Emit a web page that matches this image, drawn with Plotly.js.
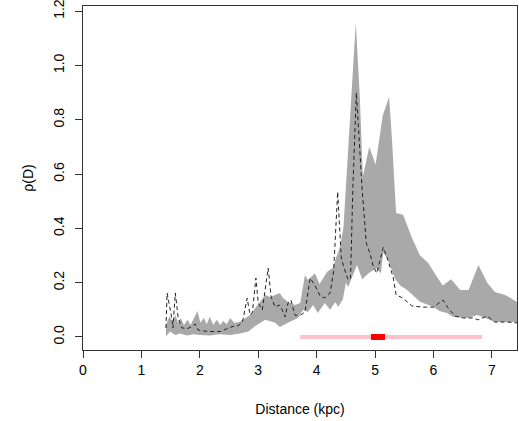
<!DOCTYPE html>
<html>
<head>
<meta charset="utf-8">
<script src="https://cdn.plot.ly/plotly-3.0.1.min.js"></script>
<style>html,body{margin:0;padding:0;background:#fff;}#chart{width:519px;height:421px;}</style>
</head>
<body>
<div id="chart"></div>
<script>
// Upper edge of grey band
const bandUpperX = [1.42,1.48,1.54,1.58,1.63,1.67,1.73,1.79,1.84,1.96,2.01,2.07,2.12,2.17,2.23,2.29,2.35,2.40,2.46,2.52,2.59,2.66,2.74,2.86,2.95,3.03,3.12,3.20,3.29,3.37,3.42,3.51,3.63,3.72,3.80,3.85,3.97,4.05,4.18,4.28,4.34,4.40,4.46,4.49,4.51,4.58,4.67,4.74,4.79,4.90,5.01,5.13,5.24,5.29,5.34,5.36,5.48,5.63,5.77,5.91,6.06,6.16,6.30,6.46,6.60,6.77,6.92,7.05,7.23,7.43];
const bandUpperY = [0.044,0.075,0.056,0.081,0.052,0.070,0.044,0.063,0.044,0.096,0.052,0.070,0.047,0.075,0.044,0.063,0.044,0.059,0.047,0.070,0.052,0.054,0.063,0.081,0.107,0.130,0.155,0.147,0.155,0.162,0.144,0.129,0.118,0.125,0.228,0.210,0.235,0.195,0.240,0.255,0.296,0.330,0.406,0.517,0.610,0.870,1.157,0.880,0.590,0.700,0.635,0.815,0.884,0.725,0.550,0.457,0.450,0.365,0.300,0.272,0.221,0.190,0.213,0.173,0.173,0.265,0.200,0.166,0.155,0.129];
// Lower edge of grey band
const bandLowerX = [1.42,1.49,1.58,1.66,1.78,1.89,2.00,2.17,2.35,2.52,2.69,2.83,2.95,3.12,3.29,3.37,3.51,3.68,3.77,3.85,3.94,4.02,4.14,4.23,4.32,4.37,4.45,4.50,4.54,4.69,4.78,4.91,5.02,5.10,5.14,5.22,5.34,5.43,5.55,5.77,6.00,6.11,6.23,6.34,6.60,6.75,6.85,7.05,7.43];
const bandLowerY = [0.002,0.020,0.007,0.013,0.005,0.010,0.007,0.005,0.010,0.007,0.013,0.020,0.040,0.063,0.052,0.037,0.052,0.070,0.100,0.092,0.118,0.088,0.125,0.100,0.129,0.110,0.140,0.200,0.184,0.265,0.213,0.238,0.252,0.235,0.310,0.285,0.215,0.190,0.173,0.130,0.110,0.095,0.088,0.074,0.070,0.081,0.074,0.055,0.055];
// Dashed curve
const dashX = [1.42,1.44,1.52,1.54,1.58,1.63,1.69,1.78,1.86,1.92,1.97,2.06,2.17,2.35,2.46,2.55,2.66,2.73,2.81,2.86,2.90,2.96,3.00,3.07,3.17,3.22,3.29,3.36,3.41,3.46,3.51,3.56,3.63,3.72,3.80,3.89,3.97,4.06,4.14,4.23,4.29,4.36,4.42,4.46,4.54,4.58,4.62,4.68,4.78,4.85,4.91,4.97,5.03,5.14,5.22,5.31,5.36,5.48,5.63,5.82,6.00,6.16,6.25,6.37,6.51,6.68,6.76,6.92,7.05,7.26,7.43];
const dashY = [0.033,0.162,0.070,0.033,0.162,0.070,0.034,0.030,0.038,0.048,0.026,0.022,0.020,0.020,0.030,0.038,0.042,0.055,0.143,0.081,0.090,0.217,0.125,0.100,0.254,0.147,0.110,0.118,0.100,0.074,0.125,0.136,0.080,0.080,0.092,0.217,0.190,0.151,0.144,0.162,0.240,0.535,0.295,0.260,0.210,0.216,0.550,0.900,0.540,0.346,0.310,0.259,0.235,0.330,0.283,0.220,0.155,0.143,0.114,0.110,0.110,0.136,0.107,0.077,0.070,0.070,0.063,0.077,0.055,0.055,0.052];
// Interval bars at y = 0
const wideX = [3.72, 6.83];
const wideY = [0, 0];
const narrowX = [4.93, 5.17];
const narrowY = [0, 0];
const xTicks = [0,1,2,3,4,5,6,7];
const yTicks = [0.0,0.2,0.4,0.6,0.8,1.0,1.2];

const polyX = bandUpperX.concat(bandLowerX.slice().reverse());
const polyY = bandUpperY.concat(bandLowerY.slice().reverse());

const traces = [
  {x: polyX, y: polyY, type:'scatter', mode:'lines', fill:'toself', fillcolor:'#A9A9A9', line:{width:0, color:'#A9A9A9'}, hoverinfo:'skip', showlegend:false},
  {x: dashX, y: dashY, type:'scatter', mode:'lines', line:{color:'#222', width:1, dash:'4px,3px'}, showlegend:false},
  {x: wideX, y: wideY, type:'scatter', mode:'lines', line:{color:'#FFC0CB', width:4}, showlegend:false},
  {x: narrowX, y: narrowY, type:'scatter', mode:'lines', line:{color:'#FF0000', width:6}, showlegend:false}
];

const font = {family:'"Liberation Sans", Arial, Helvetica, sans-serif', size:14, color:'#000'};
const layout = {
  width:519, height:421,
  margin:{l:83, r:2, t:6, b:71},
  paper_bgcolor:'#fff', plot_bgcolor:'#fff',
  font: font,
  showlegend:false,
  xaxis:{
    range:[0,7.43], tickvals:xTicks, ticktext:xTicks.map(String),
    ticks:'outside', ticklen:7, tickcolor:'#333', tickwidth:1,
    showline:true, linecolor:'#333', linewidth:1, mirror:true,
    showgrid:false, zeroline:false,
    tickfont:{size:14},
    title:{text:'Distance (kpc)', font:{size:14}, standoff:27}
  },
  yaxis:{
    range:[-0.048,1.219], tickvals:yTicks, ticktext:yTicks.map(v=>v.toFixed(1)),
    ticks:'outside', ticklen:7, tickcolor:'#333', tickwidth:1, tickangle:-90,
    ticklabelstandoff:5, ticklabeloverflow:'allow',
    showline:true, linecolor:'#333', linewidth:1, mirror:true,
    showgrid:false, zeroline:false,
    tickfont:{size:14},
    title:{text:'ρ(D)', font:{size:14}, standoff:14}
  }
};
Plotly.newPlot('chart', traces, layout, {staticPlot:true, displayModeBar:false});
</script>
</body>
</html>
